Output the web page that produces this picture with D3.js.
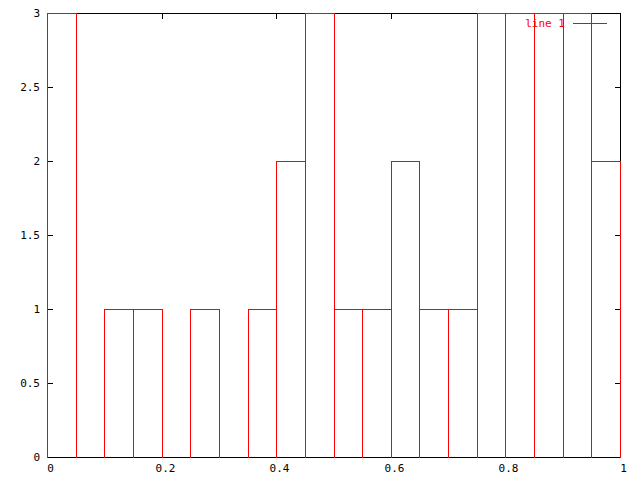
<!DOCTYPE html>
<html>
<head>
<meta charset="utf-8">
<script src="https://cdn.jsdelivr.net/npm/d3@7"></script>
<style>
  body { margin: 0; background: #fff; }
  svg { display: block; }
</style>
</head>
<body>
<div id="chart"></div>
<script>
// histogram bins (centres) and counts
const binCenters = [0.025, 0.075, 0.125, 0.175, 0.225, 0.275, 0.325, 0.375, 0.425, 0.475,
                    0.525, 0.575, 0.625, 0.675, 0.725, 0.775, 0.825, 0.875, 0.925, 0.975];
const counts = [3, 0, 1, 1, 0, 1, 0, 1, 2, 3, 1, 1, 2, 1, 1, 3, 3, 3, 3, 2];
const binWidth = 0.05;
const xTicks = [0, 0.2, 0.4, 0.6, 0.8, 1];
const yTicks = [0, 0.5, 1, 1.5, 2, 2.5, 3];
const seriesName = "line 1";

const width = 640, height = 480;
const plotLeft = 47, plotRight = 620, plotTop = 13, plotBottom = 457;
const font = "'DejaVu Sans Mono', monospace";

const svg = d3.select("#chart").append("svg")
    .attr("width", width)
    .attr("height", height)
    .style("shape-rendering", "crispEdges");

const x = d3.scaleLinear().domain([0, 1]).range([plotLeft, plotRight]);
const y = d3.scaleLinear().domain([0, 3]).range([plotBottom, plotTop]);

// border
svg.append("rect")
    .attr("x", plotLeft + 0.5).attr("y", plotTop + 0.5)
    .attr("width", plotRight - plotLeft).attr("height", plotBottom - plotTop)
    .attr("fill", "none").attr("stroke", "black");

// y ticks + mirror
yTicks.forEach(t => {
    const py = Math.round(y(t)) + 0.5;
    svg.append("line").attr("x1", plotLeft).attr("x2", plotLeft + 6)
        .attr("y1", py).attr("y2", py).attr("stroke", "black");
    svg.append("line").attr("x1", plotRight - 5).attr("x2", plotRight + 1)
        .attr("y1", py).attr("y2", py).attr("stroke", "black");
    svg.append("text")
        .attr("x", 40).attr("y", py)
        .attr("text-anchor", "end")
        .attr("dominant-baseline", "middle")
        .style("font-family", font).style("font-size", "11px")
        .text(t);
});

// x ticks + mirror
xTicks.forEach(t => {
    const px = Math.round(x(t)) + 0.5;
    svg.append("line").attr("x1", px).attr("x2", px)
        .attr("y1", plotBottom - 6).attr("y2", plotBottom).attr("stroke", "black");
    svg.append("line").attr("x1", px).attr("x2", px)
        .attr("y1", plotTop).attr("y2", plotTop + 6).attr("stroke", "black");
    svg.append("text")
        .attr("x", px + 3).attr("y", 469)
        .attr("text-anchor", "middle")
        .attr("dominant-baseline", "middle")
        .style("font-family", font).style("font-size", "11px")
        .text(t);
});

// boxes, open at the bottom like gnuplot
const boxData = binCenters.map((c, i) => ({ c: c, v: counts[i] })).filter(d => d.v > 0);

svg.selectAll(".box")
    .data(boxData)
    .enter()
    .append("path")
    .attr("class", "box")
    .attr("fill", "none")
    .attr("stroke", "red")
    .attr("d", d => {
        const x0 = Math.round(x(d.c - binWidth / 2)) + 0.5;
        const x1 = Math.round(x(d.c + binWidth / 2)) + 0.5;
        const y0 = Math.round(y(0)) + 0.5;
        const y1 = Math.round(y(d.v)) + 0.5;
        return `M${x0},${y0}V${y1}H${x1}V${y0}`;
    });

// legend
svg.append("text")
    .attr("x", 565).attr("y", 23.5)
    .attr("text-anchor", "end")
    .attr("dominant-baseline", "middle")
    .attr("fill", "red")
    .style("font-family", font).style("font-size", "11px")
    .text(seriesName);

svg.append("line")
    .attr("x1", 573).attr("x2", 607)
    .attr("y1", 23.5).attr("y2", 23.5)
    .attr("stroke", "red");
</script>
</body>
</html>
